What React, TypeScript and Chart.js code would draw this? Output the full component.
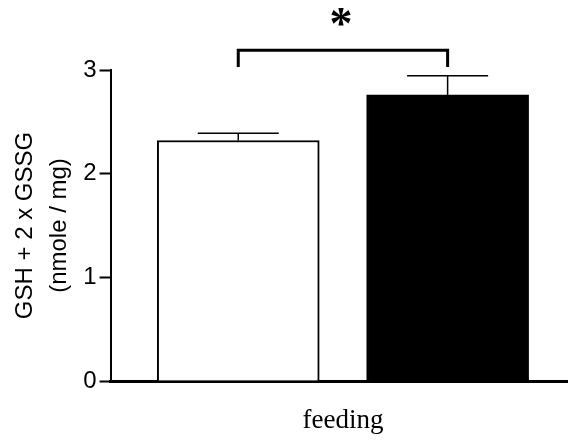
import React, { useEffect, useRef } from "react";
import { Chart, registerables } from "chart.js";

Chart.register(...registerables);

// ---- data ----
const groupPositions = [0, 1];
const groupNames = ["control", "treated"];
const means = [2.32, 2.76];
const sems = [0.07, 0.185];
const yTickValues = [0, 1, 2, 3];
const xGroupLabel = "feeding";
const yTitleLines = ["GSH + 2 x GSSG", "(nmole / mg)"];
const sigFrom = 0;
const sigTo = 1;
const sigLevel = 3.19;
const sigTickEnd = 3.03;
const sigStarLevel = 3.51;
const sigText = "*";

const errorBarPlugin = {
  id: "errorBars",
  afterDatasetsDraw(chart: any) {
    const ctx = chart.ctx;
    const yScale = chart.scales.y;
    const meta = chart.getDatasetMeta(0);
    ctx.save();
    ctx.strokeStyle = "#000";
    meta.data.forEach((bar: any, i: number) => {
      const x = bar.x;
      const yTop = bar.y;
      const yErr = yScale.getPixelForValue(means[i] + sems[i]);
      const half = bar.width / 4;
      ctx.lineWidth = 1.5;
      ctx.beginPath();
      ctx.moveTo(x, yTop);
      ctx.lineTo(x, yErr);
      ctx.stroke();
      ctx.lineWidth = 1.5;
      ctx.beginPath();
      ctx.moveTo(x - half, yErr);
      ctx.lineTo(x + half, yErr);
      ctx.stroke();
    });
    ctx.restore();
  },
};

const sigPlugin = {
  id: "sigBracket",
  afterDraw(chart: any) {
    const ctx = chart.ctx;
    const yScale = chart.scales.y;
    const meta = chart.getDatasetMeta(0);
    const x1 = meta.data[sigFrom].x;
    const x2 = meta.data[sigTo].x;
    const yb = yScale.getPixelForValue(sigLevel);
    const yt = yScale.getPixelForValue(sigTickEnd);
    ctx.save();
    ctx.strokeStyle = "#000";
    ctx.lineWidth = 3;
    ctx.lineCap = "butt";
    ctx.lineJoin = "miter";
    ctx.beginPath();
    ctx.moveTo(x1, yt);
    ctx.lineTo(x1, yb);
    ctx.lineTo(x2, yb);
    ctx.lineTo(x2, yt);
    ctx.stroke();
    ctx.fillStyle = "#000";
    ctx.font = "bold 46px 'Liberation Serif', 'Times New Roman', serif";
    ctx.textAlign = "center";
    ctx.textBaseline = "alphabetic";
    const m = ctx.measureText(sigText);
    const cy = yScale.getPixelForValue(sigStarLevel);
    const baseline = cy + (m.actualBoundingBoxAscent - m.actualBoundingBoxDescent) / 2;
    ctx.fillText(sigText, (x1 + x2) / 2 - 2, baseline);
    ctx.restore();
  },
};

export default function App() {
  const ref = useRef<HTMLCanvasElement | null>(null);

  useEffect(() => {
    if (!ref.current) return;
    const chart = new Chart(ref.current, {
      type: "bar",
      data: {
        datasets: [
          {
            label: "GSH",
            data: groupPositions.map((x, i) => ({ x, y: means[i], name: groupNames[i] })) as any,
            backgroundColor: ["#ffffff", "#000000"],
            borderColor: "#000000",
            borderWidth: 2,
            borderSkipped: "bottom",
            barThickness: 162,
          },
        ],
      },
      options: {
        animation: false,
        responsive: true,
        maintainAspectRatio: false,
        layout: { padding: { top: 70, right: 0, bottom: 0, left: 0 } },
        plugins: {
          legend: { display: false },
          tooltip: { enabled: false },
          title: { display: false },
        },
        scales: {
          x: {
            type: "linear",
            offset: false,
            min: -0.61,
            max: 1.575,
            z: 1,
            afterBuildTicks(scale: any) {
              scale.ticks = [{ value: (groupPositions[0] + groupPositions[1]) / 2 }];
            },
            afterFit(scale: any) {
              scale.height = 60;
            },
            ticks: {
              callback: () => xGroupLabel,
              color: "#000",
              padding: 24,
              maxRotation: 0,
              font: { family: "'Liberation Serif', 'Times New Roman', serif", size: 27 },
            },
            grid: { display: false, drawTicks: false },
            border: { display: true, color: "#000", width: 3 },
          },
          y: {
            min: 0,
            max: 3,
            z: 1,
            afterBuildTicks(scale: any) {
              scale.ticks = yTickValues.map((v) => ({ value: v }));
            },
            ticks: {
              color: "#000",
              padding: 3,
              font: { family: "'Liberation Sans', Arial, sans-serif", size: 24 },
            },
            grid: {
              display: true,
              drawOnChartArea: false,
              drawTicks: true,
              tickLength: 11,
              tickWidth: 2,
              tickColor: "#000",
            },
            border: { display: true, color: "#000", width: 2 },
            title: {
              display: true,
              text: yTitleLines,
              color: "#000",
              font: { family: "'Liberation Sans', Arial, sans-serif", size: 24, lineHeight: 1.4 },
              padding: { top: 9, bottom: 4 },
            },
          },
        },
      },
      plugins: [errorBarPlugin, sigPlugin],
    });
    return () => chart.destroy();
  }, []);

  return (
    <div style={{ position: "fixed", left: 0, top: 0, width: 568, height: 441, background: "#fff" }}>
      <canvas ref={ref} />
    </div>
  );
}
